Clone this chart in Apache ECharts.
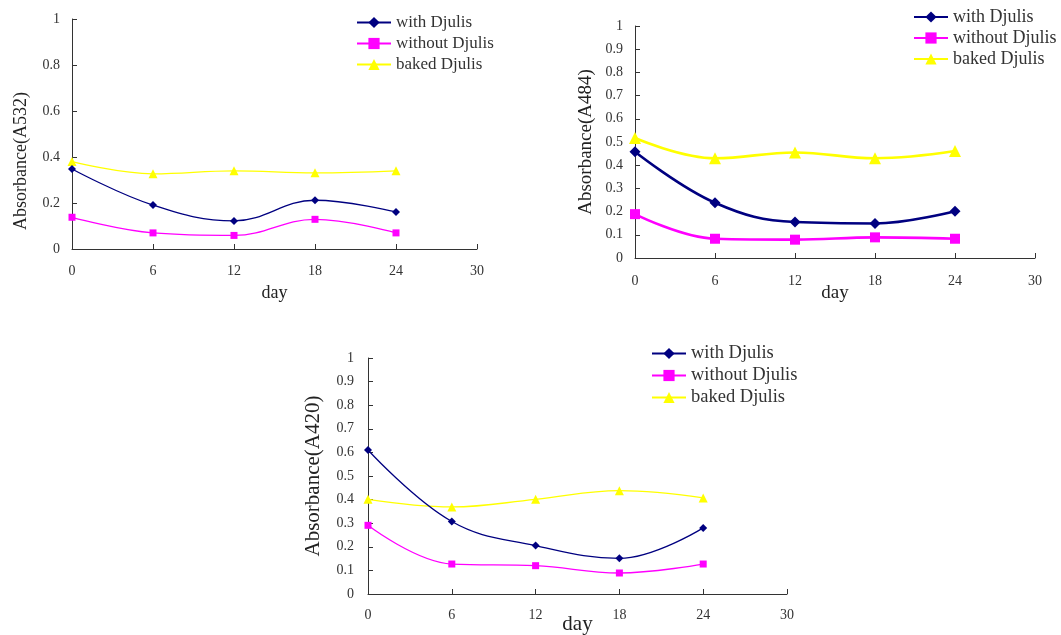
<!DOCTYPE html>
<html>
<head>
<meta charset="utf-8">
<script src="https://cdn.jsdelivr.net/npm/echarts@6/dist/echarts.min.js"></script>
<style>html,body{margin:0;padding:0;background:#fff}#c{width:1061px;height:635px}</style>
</head>
<body>
<div id="c"></div>
<script>
const days = [0, 6, 12, 18, 24];
const seriesNames = ['with Djulis', 'without Djulis', 'baked Djulis'];
// Chart 1: Absorbance (A532)
const a532With = [0.348, 0.191, 0.122, 0.212, 0.161];
const a532Without = [0.138, 0.070, 0.059, 0.129, 0.070];
const a532Baked = [0.380, 0.327, 0.340, 0.331, 0.340];
// Chart 2: Absorbance (A484)
const a484With = [0.458, 0.238, 0.155, 0.149, 0.202];
const a484Without = [0.189, 0.083, 0.079, 0.089, 0.083];
const a484Baked = [0.517, 0.430, 0.455, 0.430, 0.461];
// Chart 3: Absorbance (A420)
const a420With = [0.610, 0.307, 0.205, 0.151, 0.280];
const a420Without = [0.291, 0.127, 0.120, 0.089, 0.127];
const a420Baked = [0.401, 0.369, 0.401, 0.438, 0.407];
const yTitles = ['Absorbance(A532)', 'Absorbance(A484)', 'Absorbance(A420)'];
const xTitle = 'day';

const FONT = '"Liberation Serif", "Times New Roman", serif';
const TXT = '#333';
const colors = ['#000080', '#FF00FF', '#FFFF00'];
const symbols = ['diamond', 'rect', 'triangle'];

const pairs = arr => days.map((d, i) => [d, arr[i]]);

const cfg = [
  {grid:{left:72,right:584,top:19,bottom:386}, yInt:0.2, tickFs:14, nameFs:18, nameGap:35, yNameGap:42,
   xMargin:15, yMargin:12,
   legend:{left:356, top:14, fs:17, gap:4}, lw:1.3, sym:[8,7,9], data:[a532With,a532Without,a532Baked], yPad:[0,54,0,0]},
  {grid:{left:635,right:26,top:26,bottom:377}, yInt:0.1, tickFs:14, nameFs:19, nameGap:26, yNameGap:39,
   xMargin:16, yMargin:12,
   legend:{left:913, top:8, fs:18, gap:3}, lw:2.6, sym:[11,10,12], data:[a484With,a484Without,a484Baked], yPad:0},
  {grid:{left:368,right:274,top:358,bottom:41}, yInt:0.1, tickFs:14, nameFs:21, nameGap:20, yNameGap:44,
   xMargin:14, yMargin:14,
   legend:{left:651, top:344, fs:18.5, gap:3}, lw:1.3, sym:[8,7,9], data:[a420With,a420Without,a420Baked], yPad:0}
];

const option = {
  animation: false,
  backgroundColor: '#fff',
  textStyle: {fontFamily: FONT, color: TXT},
  grid: cfg.map(c => Object.assign({containLabel:false, outerBoundsMode:'none'}, c.grid)),
  xAxis: cfg.map((c, i) => ({
    type:'value', gridIndex:i, min:0, max:30, interval:6,
    name:xTitle, nameLocation:'middle', nameGap:c.nameGap, nameMoveOverlap:false,
    nameTextStyle:{fontSize:c.nameFs, fontFamily:FONT, color:'#222'},
    axisLine:{lineStyle:{color:'#333', width:1}},
    axisTick:{inside:true, length:5, lineStyle:{color:'#333'}},
    axisLabel:{fontSize:c.tickFs, fontFamily:FONT, color:TXT, margin:c.xMargin},
    splitLine:{show:false}
  })),
  yAxis: cfg.map((c, i) => ({
    type:'value', gridIndex:i, min:0, max:1, interval:c.yInt,
    name:yTitles[i], nameLocation:'middle', nameGap:c.yNameGap,
    nameTextStyle:{fontSize:c.nameFs, fontFamily:FONT, color:'#222', padding:c.yPad},
    axisLine:{show:true, lineStyle:{color:'#333', width:1}},
    axisTick:{show:true, inside:true, length:5, lineStyle:{color:'#333'}},
    axisLabel:{fontSize:c.tickFs, fontFamily:FONT, color:TXT, margin:c.yMargin},
    splitLine:{show:false}
  })),
  legend: cfg.map((c, i) => ({
    left:c.legend.left, top:c.legend.top, orient:'vertical', padding:0,
    itemWidth:34, itemHeight:14, itemGap:c.legend.gap,
    selectedMode:false,
    textStyle:{fontSize:c.legend.fs, fontFamily:FONT, color:TXT},
    data: seriesNames.map(n => ({name:n}))
  })),
  series: []
};
cfg.forEach((c, gi) => {
  c.data.forEach((arr, si) => {
    option.series.push({
      type:'line', name:seriesNames[si], xAxisIndex:gi, yAxisIndex:gi,
      data:pairs(arr), smooth:0.4,
      symbol:symbols[si], symbolSize:c.sym[si], showSymbol:true,
      lineStyle:{color:colors[si], width:c.lw},
      itemStyle:{color:colors[si]},
      z: 3 - si
    });
  });
});
const chart = echarts.init(document.getElementById('c'), null, {renderer:'canvas'});
chart.setOption(option);
</script>
</body>
</html>
